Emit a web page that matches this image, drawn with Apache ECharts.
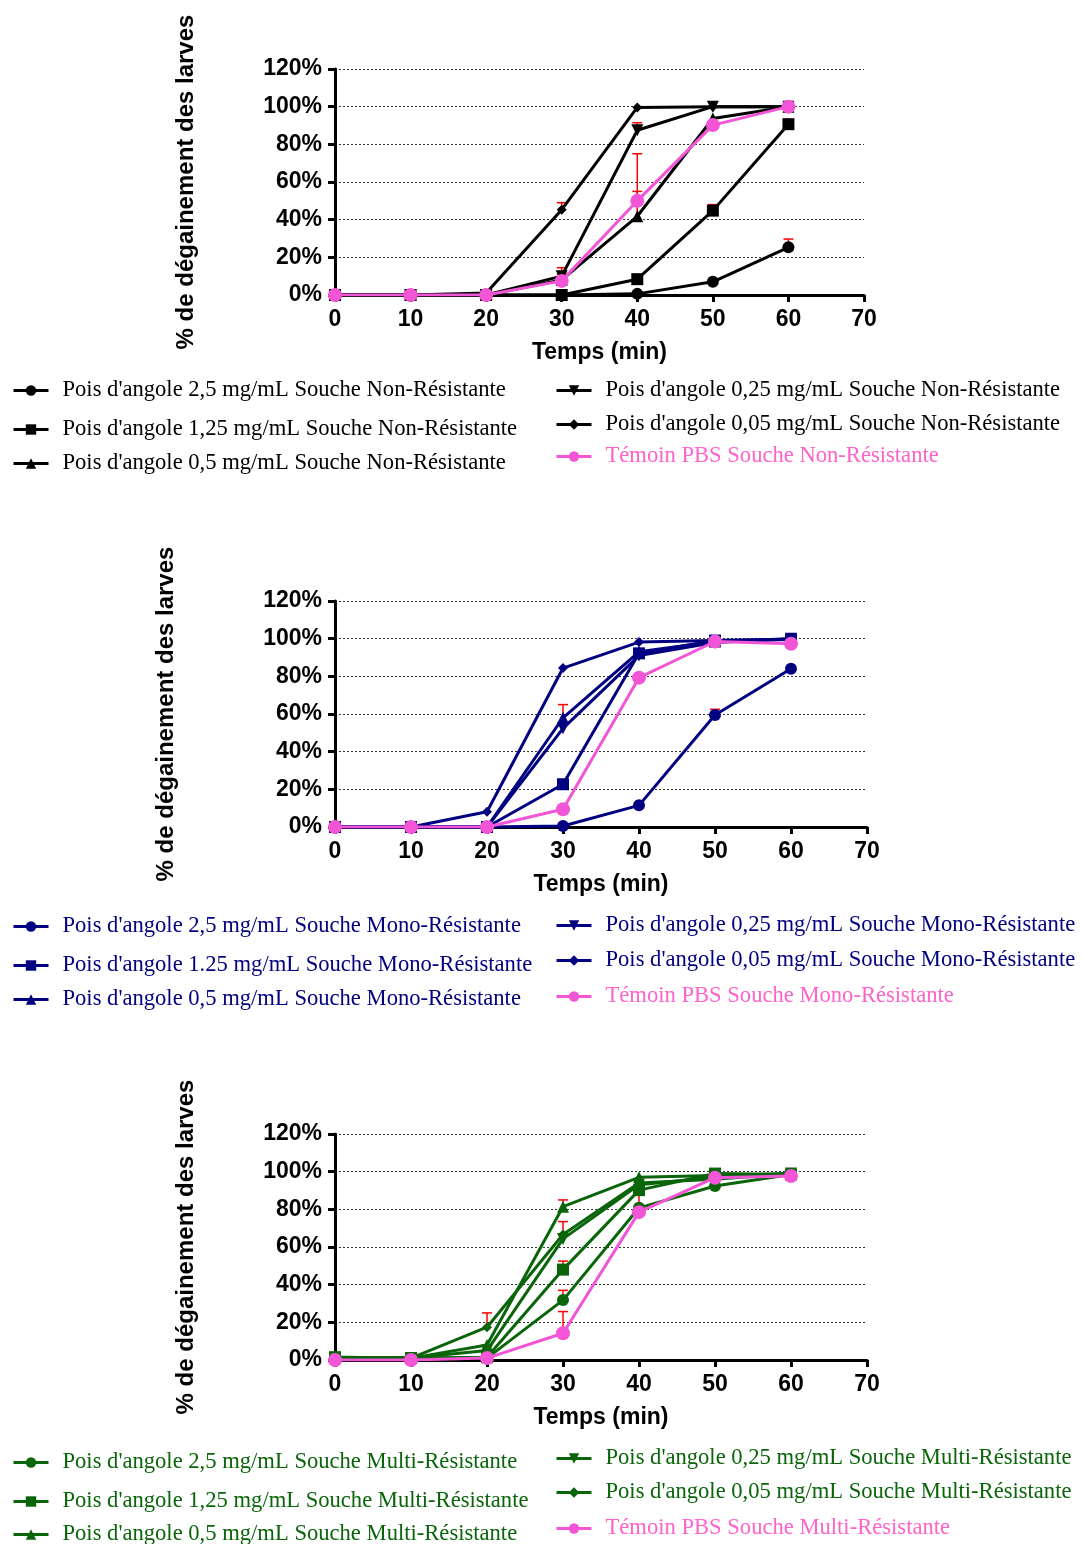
<!DOCTYPE html>
<html>
<head>
<meta charset="utf-8">
<script src="https://cdn.jsdelivr.net/npm/echarts@6/dist/echarts.min.js"></script>
<style>
  html, body { margin: 0; padding: 0; background: #fff; }
  #main { width: 1083px; height: 1544px; }
</style>
</head>
<body>
<div id="main"></div>
<script>
// temps (min)
const times = [0, 10, 20, 30, 40, 50, 60];

// Souche Non-Résistante (%)
const nr25  = [0, 0, 0, 0, 0.6, 7, 25.3];
const nr125 = [0, 0, 0, 0, 8.4, 44.8, 90.7];
const nr05  = [0, 0, 0, 8, 41.8, 93.7, 100];
const nr025 = [0, 0, 0, 10, 87.5, 100, 100];
const nr005 = [0, 0, 1, 45.3, 99.6, 100, 100];
const nrPbs = [0, 0, 0, 7.5, 50, 90.2, 100];
// barres d'erreur [temps, moyenne, haut]
const nrErr = [[60, 25.3, 29.7], [50, 44.8, 48], [30, 45.3, 49], [30, 10, 14.5], [30, 8, 11],
               [40, 87.5, 91.5], [40, 50, 75], [40, 41.8, 55]];

// Souche Mono-Résistante (%)
const mr25  = [0, 0, 0, 0.5, 11.5, 59.5, 84];
const mr125 = [0, 0, 0, 22.7, 92.2, 99, 99.5];
const mr05  = [0, 0, 0, 58, 93, 98.5, 100];
const mr025 = [0, 0, 0, 52.4, 91, 98, 100];
const mr005 = [0, 0, 8.1, 84.4, 98.2, 99, 99.5];
const mrPbs = [0, 0, 0, 9.4, 79.3, 98.5, 97.3];
const mrErr = [[50, 59.5, 62.5], [30, 22.7, 25], [30, 58, 65], [30, 52.4, 55]];

// Souche Multi-Résistante (%)
const mu25  = [1.5, 1, 1, 31.8, 80.8, 92.4, 98.5];
const mu125 = [1.5, 1, 1.5, 48, 90.2, 99, 98.5];
const mu05  = [1, 1, 8, 81.4, 97, 98, 99];
const mu025 = [1, 1, 5, 64.3, 93, 97, 99];
const mu005 = [1, 1, 17.4, 66.6, 94, 96, 99];
const muPbs = [0, 0, 1, 14.2, 78.5, 96.8, 97.7];
const muErr = [[20, 17.4, 25], [30, 81.4, 85], [30, 66.6, 73.5], [30, 64.3, 66.5], [30, 48, 52.5],
               [30, 31.8, 37], [30, 14.2, 25.7], [40, 80.8, 88.5], [50, 95, 98]];

const xTicks = [0, 70, 10];   // min, max, interval
const yTicks = [0, 120, 20];

const pink = '#f255d6';
const pinkText = '#ff62c8';

const panels = [
  { suffix: 'Non-Résistante', color: '#000000', conc: ['2,5', '1,25', '0,5', '0,25', '0,05'],
    vals: [nr25, nr125, nr05, nr025, nr005, nrPbs], err: nrErr,
    top: 69, width: 529, nameGap: 137,
    rows: [389, 428, 462, 389, 423, 455] },
  { suffix: 'Mono-Résistante', color: '#000080', conc: ['2,5', '1.25', '0,5', '0,25', '0,05'],
    vals: [mr25, mr125, mr05, mr025, mr005, mrPbs], err: mrErr,
    top: 601, width: 532, nameGap: 157,
    rows: [925, 964, 998, 924, 959, 995] },
  { suffix: 'Multi-Résistante', color: '#0a650a', conc: ['2,5', '1,25', '0,5', '0,25', '0,05'],
    vals: [mu25, mu125, mu05, mu025, mu005, muPbs], err: muErr,
    top: 1134, width: 532, nameGap: 137,
    rows: [1461, 1500, 1533, 1457, 1491, 1527] }
];

const symbols = [
  { symbol: 'circle', size: 12, rot: 0 },
  { symbol: 'rect', size: 12, rot: 0 },
  { symbol: 'triangle', size: 12, rot: 0 },
  { symbol: 'triangle', size: 12, rot: 180 },
  { symbol: 'diamond', size: 10, rot: 0 }
];

const axisFont = { fontFamily: 'Liberation Sans', fontWeight: 'bold', fontSize: 23, color: '#000' };

const option = { animation: false, grid: [], xAxis: [], yAxis: [], series: [], legend: [] };

panels.forEach((p, gi) => {
  option.grid.push({ left: 335, top: p.top, width: p.width, height: 226 });
  option.xAxis.push({
    gridIndex: gi, type: 'value', min: xTicks[0], max: xTicks[1], interval: xTicks[2],
    name: 'Temps (min)', nameLocation: 'middle', nameGap: 46,
    nameTextStyle: axisFont,
    axisLine: { onZero: false, lineStyle: { color: '#000', width: 3 } },
    axisTick: { show: true, length: 7, lineStyle: { color: '#000', width: 3 } },
    axisLabel: Object.assign({ margin: 13 }, axisFont),
    splitLine: { show: false }
  });
  option.yAxis.push({
    gridIndex: gi, type: 'value', min: yTicks[0], max: yTicks[1], interval: yTicks[2],
    name: '% de dégainement des larves', nameLocation: 'middle', nameGap: p.nameGap, nameRotate: 90,
    nameTextStyle: Object.assign({}, axisFont, { fontSize: 24 }),
    axisLine: { show: true, lineStyle: { color: '#000', width: 3 } },
    axisTick: { show: true, length: 7, lineStyle: { color: '#000', width: 3 } },
    axisLabel: Object.assign({ margin: 13, formatter: '{value}%' }, axisFont),
    splitLine: { show: true, lineStyle: { color: '#333', width: 1, type: [2, 2] } }
  });

  const names = p.conc.map(c => "Pois d'angole " + c + ' mg/mL Souche ' + p.suffix);
  names.push('Témoin PBS Souche ' + p.suffix);

  // barres d'erreur (vers le haut)
  option.series.push({
    type: 'custom', xAxisIndex: gi, yAxisIndex: gi, z: 1, silent: true,
    data: p.err,
    renderItem: (params, api) => {
      const a = api.coord([api.value(0), api.value(1)]);
      const b = api.coord([api.value(0), api.value(2)]);
      const st = { stroke: '#ff0000', lineWidth: 1.5 };
      return { type: 'group', children: [
        { type: 'line', shape: { x1: a[0], y1: a[1], x2: b[0], y2: b[1] }, style: st },
        { type: 'line', shape: { x1: b[0] - 5, y1: b[1], x2: b[0] + 5, y2: b[1] }, style: st }
      ] };
    }
  });

  names.forEach((nm, si) => {
    const isPbs = si === 5;
    const sym = isPbs ? { symbol: 'circle', size: 14, rot: 0 } : symbols[si];
    const col = isPbs ? pink : p.color;
    option.series.push({
      name: nm, type: 'line', xAxisIndex: gi, yAxisIndex: gi, z: isPbs ? 3 : 2,
      data: times.map((t, i) => [t, p.vals[si][i]]),
      symbol: sym.symbol, symbolSize: sym.size, symbolRotate: sym.rot,
      lineStyle: { color: col, width: 3 },
      itemStyle: { color: col },
      emphasis: { disabled: true }
    });
    const left = si < 3 ? 12 : 555;
    option.legend.push({
      data: [nm], orient: 'vertical', left: left, top: p.rows[si] - 10, padding: 0,
      itemWidth: 35, itemHeight: 13, selectedMode: false,
      lineStyle: { width: 3 },
      textStyle: { fontFamily: 'Liberation Serif', fontSize: 22.6, color: isPbs ? pinkText : p.color,
                   padding: [0, 0, 0, 9] }
    });
  });
});

const chart = echarts.init(document.getElementById('main'));
chart.setOption(option);
</script>
</body>
</html>
